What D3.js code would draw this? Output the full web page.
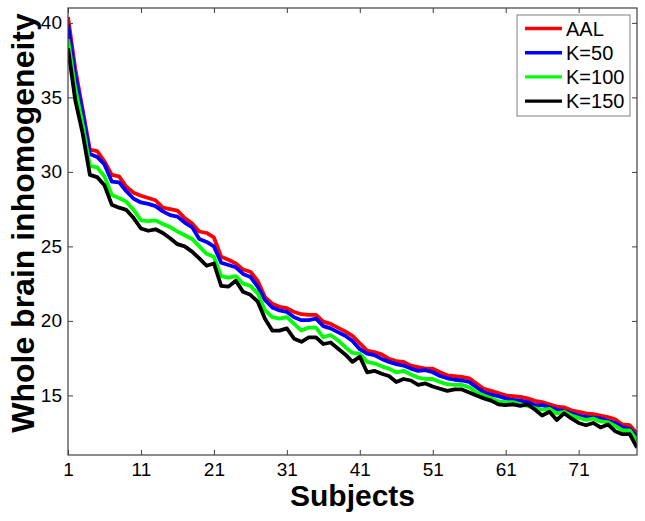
<!DOCTYPE html>
<html>
  <head>
    <meta charset="utf-8">
    <style>
      body { margin: 0; background: #fff; }
      svg { font-family: "Liberation Sans", Arial, sans-serif; }
      .series { fill: none; stroke-width: 3.8px; stroke-linejoin: round; }
      .axis path, .axis line { stroke: #404040; }
      .axis text { fill: #000; font-size: 19px; }
    </style>
  </head>
  <body>
    <div class="chart-container"></div>
    <script src="https://cdn.jsdelivr.net/npm/d3@7"></script>
    <script>

var xTicks = [1, 11, 21, 31, 41, 51, 61, 71];
var yTicks = [15, 20, 25, 30, 35, 40];

var aal = [40.4, 36.9, 34.2, 31.5, 31.4, 30.7, 29.8, 29.7, 29.0, 28.6,
  28.4, 28.25, 28.1, 27.6, 27.5, 27.4, 26.9, 26.55, 26.0, 25.9,
  25.6, 24.3, 24.1, 23.85, 23.45, 23.3, 22.7, 21.6, 21.15, 20.95,
  20.85, 20.6, 20.45, 20.4, 20.4, 19.95, 19.8, 19.55, 19.3, 19.0,
  18.5, 18.0, 17.9, 17.75, 17.45, 17.3, 17.25, 17.0, 16.9, 16.8,
  16.8, 16.55, 16.35, 16.3, 16.25, 16.15, 15.8, 15.45, 15.3, 15.15,
  15.0, 14.95, 14.9, 14.8, 14.63, 14.55, 14.4, 14.25, 14.2, 14.0,
  13.9, 13.8, 13.75, 13.65, 13.55, 13.4, 13.05, 13.0, 12.45];

var k50 = [39.9, 36.5, 34.0, 31.2, 31.0, 30.5, 29.35, 29.3, 28.7, 28.2,
  27.95, 27.85, 27.7, 27.35, 27.1, 27.0, 26.6, 26.3, 25.5, 25.3,
  25.0, 23.9, 23.75, 23.6, 23.15, 22.95, 22.3, 21.4, 20.9, 20.7,
  20.6, 20.25, 20.05, 20.05, 20.15, 19.65, 19.5, 19.25, 19.0, 18.65,
  18.1, 17.8, 17.7, 17.45, 17.25, 17.1, 17.0, 16.8, 16.65, 16.7,
  16.55, 16.3, 16.15, 16.05, 16.0, 15.9, 15.55, 15.2, 15.05, 14.95,
  14.8, 14.7, 14.65, 14.55, 14.35, 14.35, 14.2, 14.05, 13.95, 13.8,
  13.65, 13.55, 13.5, 13.45, 13.3, 13.15, 12.85, 12.75, 12.25];

var k100 = [38.9, 35.6, 33.2, 30.4, 30.3, 29.7, 28.45, 28.25, 28.0, 27.45,
  26.75, 26.7, 26.75, 26.5, 26.3, 26.0, 25.75, 25.5, 25.0, 24.5,
  24.3, 23.0, 22.9, 23.0, 22.5, 22.35, 21.85, 20.7, 20.25, 20.15,
  20.25, 19.8, 19.35, 19.55, 19.55, 18.9, 19.05, 18.7, 18.25, 17.85,
  17.8, 17.25, 17.15, 16.95, 16.8, 16.55, 16.65, 16.4, 16.2, 16.1,
  16.1, 15.9, 15.75, 15.7, 15.7, 15.55, 15.2, 15.0, 14.8, 14.6,
  14.55, 14.55, 14.4, 14.3, 14.15, 14.05, 14.1, 13.8, 13.9, 13.65,
  13.5, 13.35, 13.45, 13.25, 13.2, 12.95, 12.65, 12.65, 11.95];

var k150 = [38.3, 34.8, 32.6, 29.8, 29.65, 29.1, 27.8, 27.6, 27.45, 26.9,
  26.2, 26.05, 26.15, 25.9, 25.55, 25.15, 25.0, 24.65, 24.2, 23.7,
  23.85, 22.35, 22.3, 22.7, 21.95, 21.75, 21.3, 20.15, 19.35, 19.35,
  19.5, 18.8, 18.6, 18.9, 18.9, 18.45, 18.55, 18.15, 17.75, 17.25,
  17.6, 16.55, 16.65, 16.45, 16.3, 15.9, 16.1, 16.0, 15.7, 15.8,
  15.6, 15.45, 15.3, 15.4, 15.4, 15.2, 15.0, 14.8, 14.65, 14.4,
  14.35, 14.4, 14.3, 14.4, 14.05, 13.65, 13.9, 13.35, 13.8, 13.45,
  13.15, 13.0, 13.15, 12.85, 13.05, 12.6, 12.4, 12.4, 11.5];

var seriesNames = ['AAL', 'K=50', 'K=100', 'K=150'];
var seriesColors = ['#ff0000', '#0000ff', '#00ff00', '#000000'];
var seriesValues = [aal, k50, k100, k150];

var width = 645;
var height = 521;
var margin = { top: 8, right: 8, bottom: 66, left: 68 };
var innerW = width - margin.left - margin.right;
var innerH = height - margin.top - margin.bottom;

var x = d3.scaleLinear().domain([1, 79]).range([0, innerW]);
var y = d3.scaleLinear().domain([11, 41]).range([innerH, 0]);

var svg = d3.select('.chart-container').append('svg')
    .attr('width', width)
    .attr('height', height);

var g = svg.append('g')
    .attr('transform', 'translate(' + margin.left + ',' + margin.top + ')');

svg.append('defs').append('clipPath')
    .attr('id', 'plot-clip')
  .append('rect')
    .attr('width', innerW)
    .attr('height', innerH);

var line = d3.line()
    .x(function (d, i) { return x(i + 1); })
    .y(function (d) { return y(d); });

var lines = g.append('g').attr('clip-path', 'url(#plot-clip)');

seriesValues.forEach(function (vals, i) {
  lines.append('path')
    .attr('class', 'series')
    .attr('stroke', seriesColors[i])
    .attr('d', line(vals));
});

// axes, MATLAB style: ticks inside, box on
g.append('g')
    .attr('class', 'axis')
    .attr('transform', 'translate(0,' + innerH + ')')
    .call(d3.axisBottom(x).tickValues(xTicks).tickSizeInner(-5).tickSizeOuter(0).tickPadding(8))
    .select('.domain').remove();

g.append('g')
    .attr('class', 'axis')
    .call(d3.axisTop(x).tickValues(xTicks).tickSizeInner(-5).tickSizeOuter(0).tickFormat(''))
    .select('.domain').remove();

g.append('g')
    .attr('class', 'axis')
    .call(d3.axisLeft(y).tickValues(yTicks).tickSizeInner(-5).tickSizeOuter(0).tickPadding(6))
    .select('.domain').remove();

g.append('g')
    .attr('class', 'axis')
    .attr('transform', 'translate(' + innerW + ',0)')
    .call(d3.axisRight(y).tickValues(yTicks).tickSizeInner(-5).tickSizeOuter(0).tickFormat(''))
    .select('.domain').remove();

g.append('rect')
    .attr('width', innerW)
    .attr('height', innerH)
    .attr('fill', 'none')
    .attr('stroke', '#404040')
    .attr('stroke-width', 1.2);

// axis titles
svg.append('text')
    .attr('x', margin.left + innerW / 2)
    .attr('y', 506)
    .attr('text-anchor', 'middle')
    .style('font-weight', 'bold')
    .style('font-size', '30px')
    .text('Subjects');

svg.append('text')
    .attr('transform', 'translate(34,' + 223 + ') rotate(-90)')
    .attr('text-anchor', 'middle')
    .style('font-weight', 'bold')
    .style('font-size', '32px')
    .text('Whole brain inhomogeneity');

// legend
var legend = svg.append('g').attr('transform', 'translate(517,15)');

legend.append('rect')
    .attr('width', 113)
    .attr('height', 101)
    .attr('fill', '#fff')
    .attr('stroke', '#808080');

var rows = legend.selectAll('.row')
    .data(seriesNames)
  .enter().append('g')
    .attr('class', 'row')
    .attr('transform', function (d, i) { return 'translate(0,' + (13.5 + i * 24.2) + ')'; });

rows.append('line')
    .attr('x1', 8)
    .attr('x2', 45)
    .attr('stroke', function (d, i) { return seriesColors[i]; })
    .attr('stroke-width', 3.4);

rows.append('text')
    .attr('x', 49)
    .attr('dy', '0.36em')
    .style('font-size', '20px')
    .text(function (d) { return d; });

    </script>
  </body>
</html>
